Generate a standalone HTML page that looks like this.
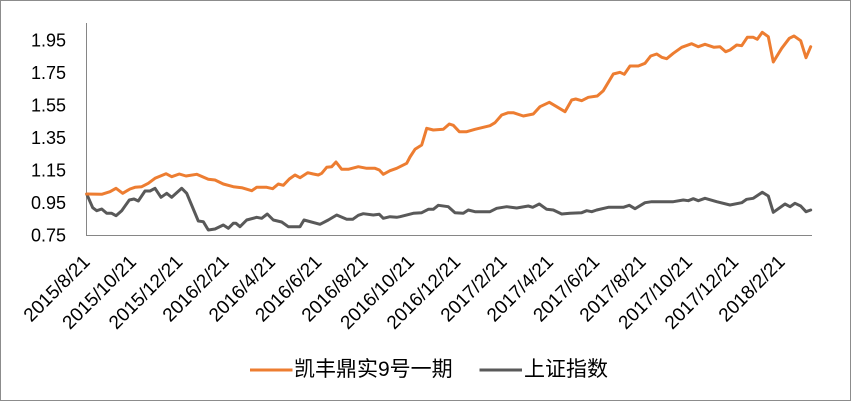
<!DOCTYPE html>
<html>
<head>
<meta charset="utf-8">
<style>
  html, body { margin: 0; padding: 0; background: #fff; }
  svg { display: block; }
  .yl { font-family: "Liberation Sans", sans-serif; font-size: 18px; fill: #000; }
  .xl { font-family: "Liberation Sans", sans-serif; font-size: 19px; fill: #000; }
  .lg { font-family: "Liberation Sans", "Noto Sans CJK SC", sans-serif; font-size: 21px; fill: #000; }
</style>
</head>
<body>
<svg width="852" height="402" viewBox="0 0 852 402" xmlns="http://www.w3.org/2000/svg">
  <rect x="0" y="0" width="852" height="402" fill="#fff"/>
  <rect x="0.5" y="0.5" width="850" height="400" fill="none" stroke="#8c8c8c" stroke-width="1"/>

  <!-- axes -->
  <line x1="86.5" y1="23" x2="86.5" y2="235.5" stroke="#868686" stroke-width="1"/>
  <line x1="86" y1="235.5" x2="812" y2="235.5" stroke="#868686" stroke-width="1"/>

  <!-- y labels -->
  <g class="yl" text-anchor="end">
    <text x="66" y="241.3">0.75</text>
    <text x="66" y="208.8">0.95</text>
    <text x="66" y="176.3">1.15</text>
    <text x="66" y="143.8">1.35</text>
    <text x="66" y="111.3">1.55</text>
    <text x="66" y="78.8">1.75</text>
    <text x="66" y="46.3">1.95</text>
  </g>

  <!-- x labels -->
  <g class="xl" text-anchor="end">
    <text transform="translate(91,263) rotate(-45)">2015/8/21</text>
    <text transform="translate(137.3,263) rotate(-45)">2015/10/21</text>
    <text transform="translate(183.7,263) rotate(-45)">2015/12/21</text>
    <text transform="translate(230,263) rotate(-45)">2016/2/21</text>
    <text transform="translate(276.3,263) rotate(-45)">2016/4/21</text>
    <text transform="translate(322.7,263) rotate(-45)">2016/6/21</text>
    <text transform="translate(369,263) rotate(-45)">2016/8/21</text>
    <text transform="translate(415.3,263) rotate(-45)">2016/10/21</text>
    <text transform="translate(461.6,263) rotate(-45)">2016/12/21</text>
    <text transform="translate(508,263) rotate(-45)">2017/2/21</text>
    <text transform="translate(554.3,263) rotate(-45)">2017/4/21</text>
    <text transform="translate(600.6,263) rotate(-45)">2017/6/21</text>
    <text transform="translate(647,263) rotate(-45)">2017/8/21</text>
    <text transform="translate(693.3,263) rotate(-45)">2017/10/21</text>
    <text transform="translate(739.6,263) rotate(-45)">2017/12/21</text>
    <text transform="translate(786,263) rotate(-45)">2018/2/21</text>
  </g>

  <!-- gray series -->
  <polyline fill="none" stroke="#595959" stroke-width="3" stroke-linejoin="round" stroke-linecap="round"
    points="86.7,194 92.7,207.7 96.7,210.7 101.7,209 106.7,213.3 111.7,213.3 116,215.7 121.7,210.7 129.3,200 134,199 138.3,201 145,191 150,191 155,188.3 161,197.3 166.7,193.3 171.7,197.3 181.7,188.3 186.7,193.3 198.3,221 203.3,221.7 208.3,230 215,229 223.3,225 228.3,228.3 233.3,223.3 236,223.3 240,226.7 246.7,220 256.7,217.3 261.7,218.3 267.3,214 273.3,220 281.7,222 288.3,226.7 300,226.7 304,220 320,224.3 328.3,220 336.7,215 346.7,219.3 352.7,219.3 358.3,215.3 363.3,213.7 373.3,215 379.3,214.3 383.3,218.3 390,216.7 396.7,217.3 400,216.7 413.3,213.3 421.7,212.7 428.3,209.3 433.3,209.3 438.3,205.3 448.3,206.7 455,212.7 463.3,213.3 468.3,210 475,211.7 490,211.7 496.7,208.3 506.7,206.7 516.7,208 528.3,206 532.7,207.3 539.3,204 546.7,209.3 553.3,210 561.7,214 570,213.3 581.7,212.7 586.7,210.7 591.7,211.7 596.7,210 608.3,207.3 623.3,207.3 629.3,205.3 635,208.7 645,202.7 651.7,201.7 673.3,201.7 683.3,200 688.3,200.7 693.3,198.7 698.3,200.7 705,198.3 716.7,201.7 730,205 741.7,202.7 746.7,199.3 753.3,198.3 762.3,192.3 768.3,196 773.3,212.3 785,204 790,206.7 795,203.3 800.7,206 806,211.7 810.7,210"/>

  <!-- orange series -->
  <polyline fill="none" stroke="#ED7D31" stroke-width="3" stroke-linejoin="round" stroke-linecap="round"
    points="86.7,194 101.7,194.3 110,191.7 116,188.3 122.7,193.3 130,189 135,187.3 141.7,186.7 148.3,183.3 155,178.3 166,173.7 171.7,176.7 179.3,174 186,176 196.7,174.3 208.3,179.3 215,180 223.3,184 233.3,186.7 241.7,187.7 251.7,190.7 256.7,187.3 266.7,187.3 272.7,188.7 278.3,184 283.3,185.3 289.3,179 295,175 300,177.7 307.7,172.7 313.3,174 318.3,175 321.7,173.3 326.7,167.3 331.7,166.7 336,162 341.7,169.3 348.3,169.3 358.3,166.7 366.7,168.3 375,168.3 379.3,170 383.3,174.3 390,170.7 396.7,168.3 406.7,163.3 410,157 415,149.3 421.7,145 426.7,128.3 433.3,130 443.3,129.3 449.3,124 453.3,125.3 459.3,131.7 466.7,131.7 475,129.3 490,125.7 495,122.7 501.7,115 508.3,112.7 513.3,112.7 523.3,116 533.3,114 540,106.7 549.3,102.3 556.7,106.7 565,111.7 571.7,100 575.7,99 581.7,100.7 588.3,97.3 597.3,96 603.3,90.7 613.3,74 620,72.3 624.3,74.3 630,66 638.3,66 645,63.3 650.7,56 656.7,54 661.7,57.3 666.7,58.7 673.3,53.3 681.7,47.3 691.7,43.7 698.3,46.7 705,44.3 714,47.3 720,46.7 725.7,51.7 730,50 736.7,45 741.7,45.7 747.3,37.3 753.3,37.3 757.3,39.3 762.3,32.3 768.3,36.7 773.3,62 781.7,48.3 789.3,38.3 794,36 800.7,40.7 806,57.7 810.7,46.7"/>

  <!-- legend -->
  <line x1="250" y1="370" x2="292.5" y2="370" stroke="#ED7D31" stroke-width="3"/>
  <text class="lg" x="294" y="376">凯丰鼎实9号一期</text>
  <line x1="479.5" y1="370" x2="522" y2="370" stroke="#595959" stroke-width="3"/>
  <text class="lg" x="524" y="376">上证指数</text>
</svg>
</body>
</html>
